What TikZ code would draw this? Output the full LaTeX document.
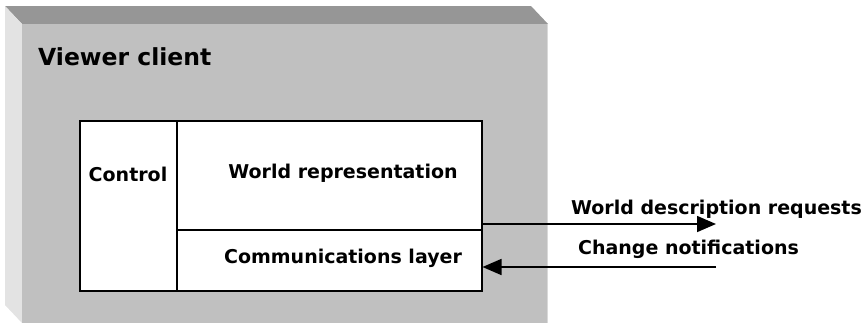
\documentclass[tikz,border=0pt]{standalone}
\usepackage{fontspec}
\setmainfont{DejaVu Sans}
\usetikzlibrary{arrows.meta}
\definecolor{topface}{HTML}{969696}
\definecolor{frontface}{HTML}{C0C0C0}
\definecolor{leftface}{HTML}{E3E3E3}
\tikzset{
  part/.style={draw=black, line width=1.5pt, fill=white, inner sep=0pt, anchor=north west},
  lbl/.style={font=\bfseries\fontsize{19}{21}\selectfont, inner sep=0pt},
  msg/.style={font=\bfseries\fontsize{19}{21}\selectfont, inner sep=0pt},
  flow/.style={line width=1.6pt, -{Triangle[length=19pt,width=16pt]}}
}
\begin{document}
\begin{tikzpicture}[x=1pt,y=-1pt]
\useasboundingbox (0,0) rectangle (866,327);
% 3D container
\fill[topface] (5,6) -- (531,6) -- (548,24) -- (22,24) -- cycle;
\fill[leftface] (5,6) -- (22,24) -- (22,323) -- (5,305) -- cycle;
\fill[frontface] (22,24) rectangle (548,323);
\draw[line width=1pt, color=leftface!70!frontface] (547.5,24) -- (547.5,323);
\node[font=\bfseries\fontsize{23.5}{26}\selectfont, inner sep=0pt, anchor=west] (title) at (38,57) {Viewer client};
% parts
\node[part, minimum width=97pt, minimum height=170pt] (control) at (79,120) {};
\node[part, minimum width=305pt, minimum height=109pt] (world) at (176,120) {};
\node[part, minimum width=305pt, minimum height=61pt] (comm) at (176,229) {};
\node[lbl] (controltxt) at (128,174) {Control};
\node[lbl] (worldtxt) at (343,173) {World representation};
\node[lbl] (commtxt) at (343,258) {Communications layer};
% messages
\coordinate (reqend) at (716,224);
\coordinate (notstart) at (716,267);
\draw[flow] (world.east |- reqend) -- (reqend);
\draw[flow] (notstart) -- (comm.east |- notstart);
\node[msg] (reqtxt) at (716.5,209) {World description requests};
\node[msg] (nottxt) at (688.5,249) {Change notifications};
\end{tikzpicture}
\end{document}
